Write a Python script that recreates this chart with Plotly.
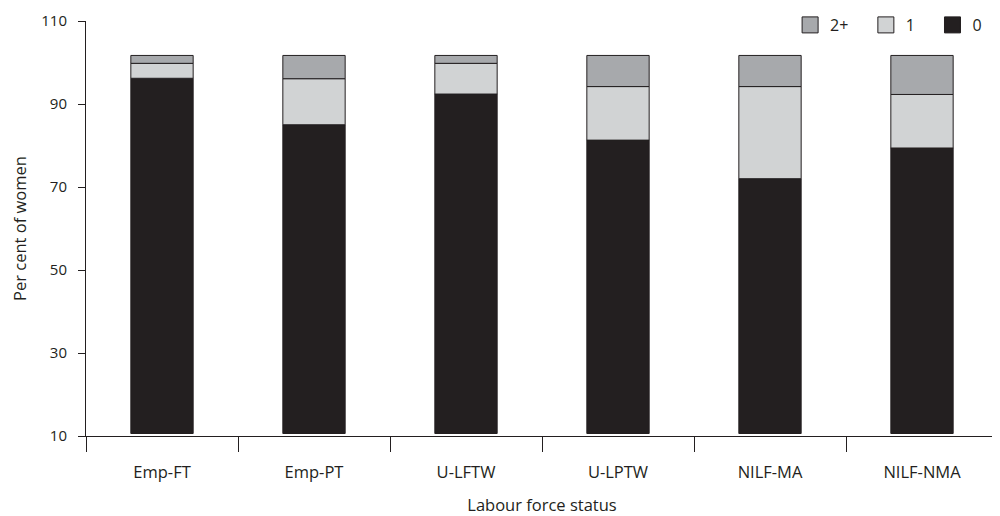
import plotly.graph_objects as go

categories = ["Emp-FT", "Emp-PT", "U-LFTW", "U-LPTW", "NILF-MA", "NILF-NMA"]
# segment heights, stacked from the axis baseline
base_level = 10.6
zero_children = [85.6, 74.4, 81.8, 70.7, 61.4, 68.8]
one_child = [3.6, 11.1, 7.4, 12.9, 22.2, 12.9]
two_plus = [1.9, 5.6, 1.9, 7.5, 7.5, 9.4]
y_ticks = [10, 30, 50, 70, 90, 110]

series = [("0", zero_children, "#231f20"),
          ("1", one_child, "#d1d3d4"),
          ("2+", two_plus, "#a7a9ac")]

text_color = "#231f20"
font_family = "'Open Sans', sans-serif"
legend_pad = "\u00a0\u00a0\u00a0"  # spacing between legend entries

fig = go.Figure()
cum = [base_level] * len(categories)
for name, vals, col in series:
    fig.add_trace(go.Bar(
        x=categories, y=vals, base=list(cum), name=name,
        marker=dict(color=col, line=dict(color="#231f20", width=1)),
        width=0.41, showlegend=False,
    ))
    cum = [c + v for c, v in zip(cum, vals)]

# legend entries (square markers)
for name, vals, col in reversed(series):
    fig.add_trace(go.Scatter(
        x=[None], y=[None], mode="markers",
        name=name if name == "0" else name + legend_pad,
        marker=dict(symbol="square", size=16, color=col,
                    line=dict(color="#231f20", width=1)),
    ))

# the page body adds an 8px offset; figure sized to fill the rest of the window
fig.update_layout(
    width=992, height=508,
    margin=dict(l=78, r=2, t=13, b=80, autoexpand=False),
    paper_bgcolor="white", plot_bgcolor="white",
    barmode="overlay",
    font=dict(family=font_family, size=16, color=text_color),
    legend=dict(orientation="h", xref="container", yref="container",
                x=0.987, xanchor="right", y=1, yanchor="top",
                traceorder="normal", font=dict(size=16), itemsizing="trace",
                bgcolor="rgba(0,0,0,0)"),
    xaxis=dict(
        type="category", range=[-0.5, 5.5], tickson="boundaries",
        ticks="outside", ticklen=15, tickcolor=text_color, tickwidth=1,
        showline=True, linecolor=text_color, linewidth=1,
        showgrid=False, zeroline=False, automargin=False,
        ticklabelstandoff=21, tickfont=dict(size=16.5),
        title=dict(text="Labour force status", standoff=26, font=dict(size=16.5)),
    ),
    yaxis=dict(
        range=[10, 110], tickvals=y_ticks, ticktext=[str(t) for t in y_ticks],
        ticks="outside", ticklen=7, tickcolor=text_color, tickwidth=1,
        showline=True, linecolor=text_color, linewidth=1,
        showgrid=False, zeroline=False, automargin=False,
        ticklabelstandoff=8, tickfont=dict(size=15),
        title=dict(text="Per cent of women", standoff=23, font=dict(size=16.5)),
    ),
)

fig.write_html("out.html")
